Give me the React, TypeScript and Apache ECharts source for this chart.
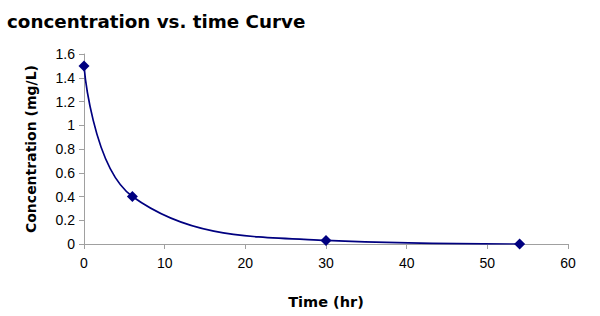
import React, { useEffect, useRef } from "react";
import * as echarts from "echarts";

const timeHr = [0, 6, 30, 54];
const concentration = [1.5, 0.4, 0.03, 0];
const titleText = "concentration vs. time Curve";
const xName = "Time (hr)";
const yName = "Concentration (mg/L)";

export default function App() {
  const ref = useRef<HTMLDivElement>(null);
  useEffect(() => {
    const chart = echarts.init(ref.current!, null, { renderer: "svg" });
    const font = "Liberation Sans, Arial, sans-serif";
    const boldFont = "DejaVu Sans, Liberation Sans, sans-serif";
    chart.setOption({
      animation: false,
      backgroundColor: "#ffffff",
      title: {
        text: titleText,
        left: 2,
        top: 7,
        textStyle: { fontFamily: boldFont, fontWeight: "bold", fontSize: 18.3, color: "#000" },
      },
      grid: { left: 84, right: 32, top: 54, bottom: 72, containLabel: false },
      xAxis: {
        type: "value",
        min: 0,
        max: 60,
        interval: 10,
        name: xName,
        nameLocation: "middle",
        nameGap: 50,
        nameTextStyle: { fontFamily: boldFont, fontWeight: "bold", fontSize: 14.5, color: "#000" },
        axisLine: { lineStyle: { color: "#a0a0a0", width: 1 } },
        axisTick: { show: true, length: 5, lineStyle: { color: "#a0a0a0" } },
        axisLabel: { fontFamily: font, fontSize: 14, color: "#000", margin: 12 },
        splitLine: { show: false },
      },
      yAxis: {
        type: "value",
        min: 0,
        max: 1.6,
        interval: 0.2,
        name: yName,
        nameLocation: "middle",
        nameGap: 46,
        nameTextStyle: { fontFamily: boldFont, fontWeight: "bold", fontSize: 14, color: "#000" },
        axisLine: { show: true, lineStyle: { color: "#a0a0a0", width: 1 } },
        axisTick: { show: true, length: 5, lineStyle: { color: "#a0a0a0" } },
        axisLabel: { fontFamily: font, fontSize: 14, color: "#000", margin: 9 },
        splitLine: { show: false },
      },
      series: [
        {
          type: "line",
          data: timeHr.map((t, i) => [t, concentration[i]]),
          smooth: 0.4,
          symbol: "diamond",
          symbolSize: 11,
          itemStyle: { color: "#000080" },
          lineStyle: { color: "#000080", width: 1.7 },
        },
      ],
    });
    return () => chart.dispose();
  }, []);
  return (
    <div
      ref={ref}
      style={{ position: "fixed", left: 0, top: 0, width: 600, height: 316 }}
    />
  );
}
